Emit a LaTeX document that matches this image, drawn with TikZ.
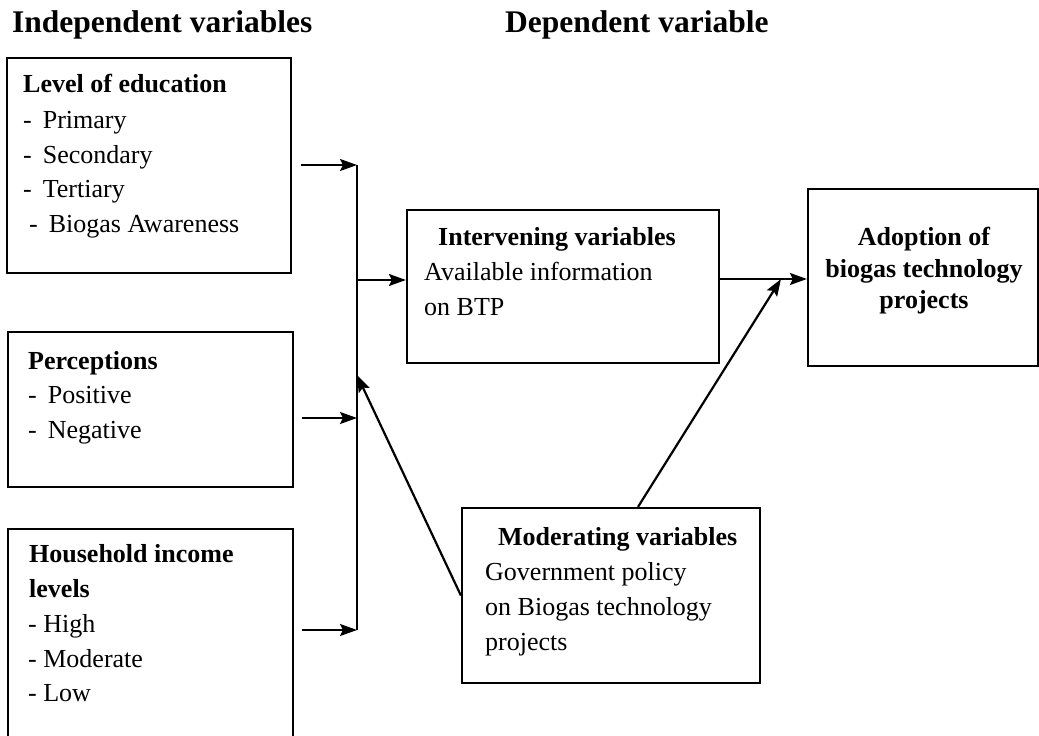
\documentclass[tikz,border=0pt]{standalone}
\usepackage{fontspec}
\setmainfont{Liberation Serif}
\usetikzlibrary{arrows.meta,calc}
\tikzset{
  box/.style={draw, line width=2.2bp, inner sep=0pt},
  txt/.style={anchor=base west, inner sep=0pt, font=\fontsize{26bp}{30bp}\selectfont},
  btxt/.style={anchor=base west, inner sep=0pt, font=\fontsize{26bp}{30bp}\selectfont\bfseries},
  ctxt/.style={anchor=base, inner sep=0pt, font=\fontsize{26bp}{30bp}\selectfont\bfseries},
  hdr/.style={anchor=base west, inner sep=0pt, font=\fontsize{31.5bp}{36bp}\selectfont\bfseries},
  ln/.style={line width=2.2bp},
  arr/.style={line width=2.2bp, -{Stealth[length=17bp,width=12bp,inset=3bp]}}
}
\begin{document}
\begin{tikzpicture}[x=1bp,y=-1bp]
\clip (0,0) rectangle (1039,736);
\fill[white] (0,0) rectangle (1039,736);
% headers
\node[hdr] (hdA) at (12,33) {Independent variables};
\node[hdr] (hdB) at (505,33) {Dependent variable};
% boxes
\node[box, minimum width=284bp, minimum height=215bp] (edu) at (149,165.5) {};
\node[box, minimum width=285bp, minimum height=155bp] (per) at (150.5,409.5) {};
\node[box, minimum width=285bp, minimum height=231bp] (inc) at (150.5,644.5) {};
\node[box, minimum width=312bp, minimum height=153bp] (int) at (563,286.5) {};
\node[box, minimum width=230bp, minimum height=177bp] (ado) at (923,277.5) {};
\node[box, minimum width=298bp, minimum height=175bp] (mod) at (611,595.5) {};
% box texts
\node[btxt] (e0) at (23,93) {Level of education};
\node[txt] (e1) at (23,128) {-\hspace{11bp}Primary};
\node[txt] (e2) at (23,163) {-\hspace{11bp}Secondary};
\node[txt] (e3) at (23,197) {-\hspace{11bp}Tertiary};
\node[txt] (e4) at (29,232) {-\hspace{11bp}Biogas Awareness};
\node[btxt] (p0) at (28,369) {Perceptions};
\node[txt] (p1) at (28,403) {-\hspace{11bp}Positive};
\node[txt] (p2) at (28,438) {-\hspace{11bp}Negative};
\node[btxt] (i0) at (29,562) {Household income};
\node[btxt] (i0b) at (29,597) {levels};
\node[txt] (i1) at (28,632) {- High};
\node[txt] (i2) at (28,667) {- Moderate};
\node[txt] (i3) at (28,701) {- Low};
\node[btxt] (v0) at (438,245) {Intervening variables};
\node[txt] (v1) at (424,280) {Available information};
\node[txt] (v2) at (424,315) {on BTP};
\node[ctxt] (a0) at (924,245) {Adoption of};
\node[ctxt] (a1) at (924,277) {biogas technology};
\node[ctxt] (a2) at (924,308) {projects};
\node[btxt] (m0) at (498,545) {Moderating variables};
\node[txt] (m1) at (485,580) {Government policy};
\node[txt] (m2) at (485,615) {on Biogas technology};
\node[txt] (m3) at (485,650) {projects};
% connector points
\coordinate (bt) at (357,165);
\coordinate (bp) at (357,418);
\coordinate (bb) at (357,630);
\coordinate (bi) at (357,280);
\coordinate (bmod) at (357,375);
\coordinate (jn) at (781,279);
% connectors
\draw[ln] (bt) -- (bb);
\draw[arr] ($(edu.east |- bt)+(9,0)$) -- (bt);
\draw[arr] ($(per.east |- bp)+(8,0)$) -- (bp);
\draw[arr] ($(inc.east |- bb)+(8,0)$) -- (bb);
\draw[arr] (bi) -- (int.west |- bi);
\draw[arr] (int.east |- jn) -- (ado.west |- jn);
\draw[arr] ([xshift=27bp]mod.north) -- (jn);
\draw[arr] (mod.west) -- (bmod);
\end{tikzpicture}
\end{document}
